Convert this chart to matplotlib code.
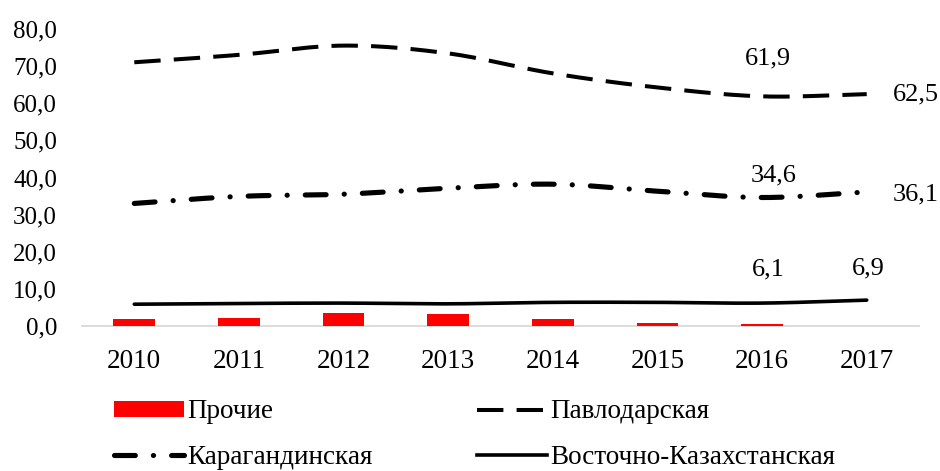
"""
Share of regions (Kazakhstan), 2010-2017: bars + smoothed lines.
Saves to out.png
"""

import numpy as np
import matplotlib
matplotlib.use("Agg")
import matplotlib.pyplot as plt
from matplotlib.patches import Patch
from matplotlib.lines import Line2D

YEARS = ["2010", "2011", "2012", "2013", "2014", "2015", "2016", "2017"]

PROCHIE   = [1.7, 2.2, 3.5, 3.2, 1.9, 0.7, 0.35, 0.0]
PAVLODAR  = [71.1, 73.1, 75.6, 73.5, 68.1, 64.3, 61.9, 62.5]
KARAGANDA = [33.0, 34.9, 35.5, 37.1, 38.2, 36.3, 34.6, 36.1]
VKO       = [5.8, 6.0, 6.1, 5.9, 6.3, 6.3, 6.1, 6.9]

LABELS = ["Прочие", "Павлодарская", "Карагандинская", "Восточно-Казахстанская"]

FONT = "Liberation Serif"
FS_Y = 18
FS_X = 19.5
FS_LAB = 19
FS_LEG = 19.5
RED = "#FF0000"
AXIS_COL = "#D9D9D9"

plt.rcParams["font.family"] = [FONT, "DejaVu Serif"]
plt.rcParams["lines.scale_dashes"] = False


def smooth(y, n=24):
    # Catmull-Rom curve through the points, like Excel's "smoothed line"
    y = np.asarray(y, dtype=float)
    x = np.arange(len(y), dtype=float)
    px = np.concatenate([[2 * x[0] - x[1]], x, [2 * x[-1] - x[-2]]])
    py = np.concatenate([[2 * y[0] - y[1]], y, [2 * y[-1] - y[-2]]])
    xs, ys = [], []
    t = np.linspace(0, 1, n, endpoint=False)
    for i in range(1, len(px) - 2):
        for p, out in ((px, xs), (py, ys)):
            p0, p1, p2, p3 = p[i - 1], p[i], p[i + 1], p[i + 2]
            out.extend(0.5 * (2 * p1 + (-p0 + p2) * t
                              + (2 * p0 - 5 * p1 + 4 * p2 - p3) * t ** 2
                              + (-p0 + 3 * p1 - 3 * p2 + p3) * t ** 3))
    xs.append(x[-1])
    ys.append(y[-1])
    return np.array(xs), np.array(ys)


fig = plt.figure(figsize=(9.4, 4.71), dpi=100)
ax = fig.add_axes([0.0872, 0.3085, 0.8905, 0.6293])

x = np.arange(len(YEARS))
ax.bar(x, PROCHIE, width=0.40, color=RED, zorder=2)

PAV_DASH = (0, (19, 9.5))
KAR_DASH = (0, (15, 13, 0.1, 13))

sx, sy = smooth(PAVLODAR)
ax.plot(sx, sy, color="black", lw=2.9, linestyle=PAV_DASH, zorder=3)
sx, sy = smooth(KARAGANDA)
ax.plot(sx, sy, color="black", lw=3.7, linestyle=KAR_DASH,
        dash_capstyle="round", zorder=3)
sx, sy = smooth(VKO)
ax.plot(sx, sy, color="black", lw=2.6, solid_capstyle="round", zorder=3)

ax.set_xlim(-0.5, len(YEARS) - 0.5)
ax.set_ylim(0, 80)
ax.set_yticks(np.arange(0, 81, 10))
ax.set_yticklabels([f"{v:.1f}".replace(".", ",") for v in np.arange(0, 81, 10)])
ax.set_xticks(x)
ax.set_xticklabels(YEARS)
ax.tick_params(axis="both", length=0)
ax.tick_params(axis="y", pad=18, labelsize=FS_Y)
ax.tick_params(axis="x", pad=17, labelsize=FS_X)

for s in ("top", "right", "left"):
    ax.spines[s].set_visible(False)
ax.spines["bottom"].set_color(AXIS_COL)
ax.spines["bottom"].set_linewidth(1.3)
ax.spines["bottom"].set_zorder(1)


def fmt(v):
    return f"{v:.1f}".replace(".", ",")


# data labels at 2016 (above) and 2017 (to the right / above)
for series, off16, off17 in ((PAVLODAR, (6, 38), (49, 0)),
                             (KARAGANDA, (12, 22), (49, -3)),
                             (VKO, (6, 34), (2, 32))):
    for idx, off in ((6, off16), (7, off17)):
        ax.annotate(fmt(series[idx]), xy=(idx, series[idx]),
                    xytext=off, textcoords="offset pixels",
                    ha="center", va="center", fontsize=FS_LAB)

handles = [
    Patch(facecolor=RED, edgecolor="none"),
    Line2D([], [], color="black", lw=3.7, linestyle=KAR_DASH,
           dash_capstyle="round"),
    Line2D([], [], color="black", lw=2.9, linestyle=PAV_DASH),
    Line2D([], [], color="black", lw=2.6),
]
order_labels = [LABELS[0], LABELS[2], LABELS[1], LABELS[3]]
fig.legend(handles, order_labels, loc="upper left",
           bbox_to_anchor=(0.121, 0.152), ncol=2, frameon=False,
           fontsize=FS_LEG, handlelength=2.6, handleheight=0.5,
           handletextpad=0.12, columnspacing=3.85, labelspacing=0.76,
           borderpad=0, borderaxespad=0)

fig.savefig("out.png", dpi=100, facecolor="white")
